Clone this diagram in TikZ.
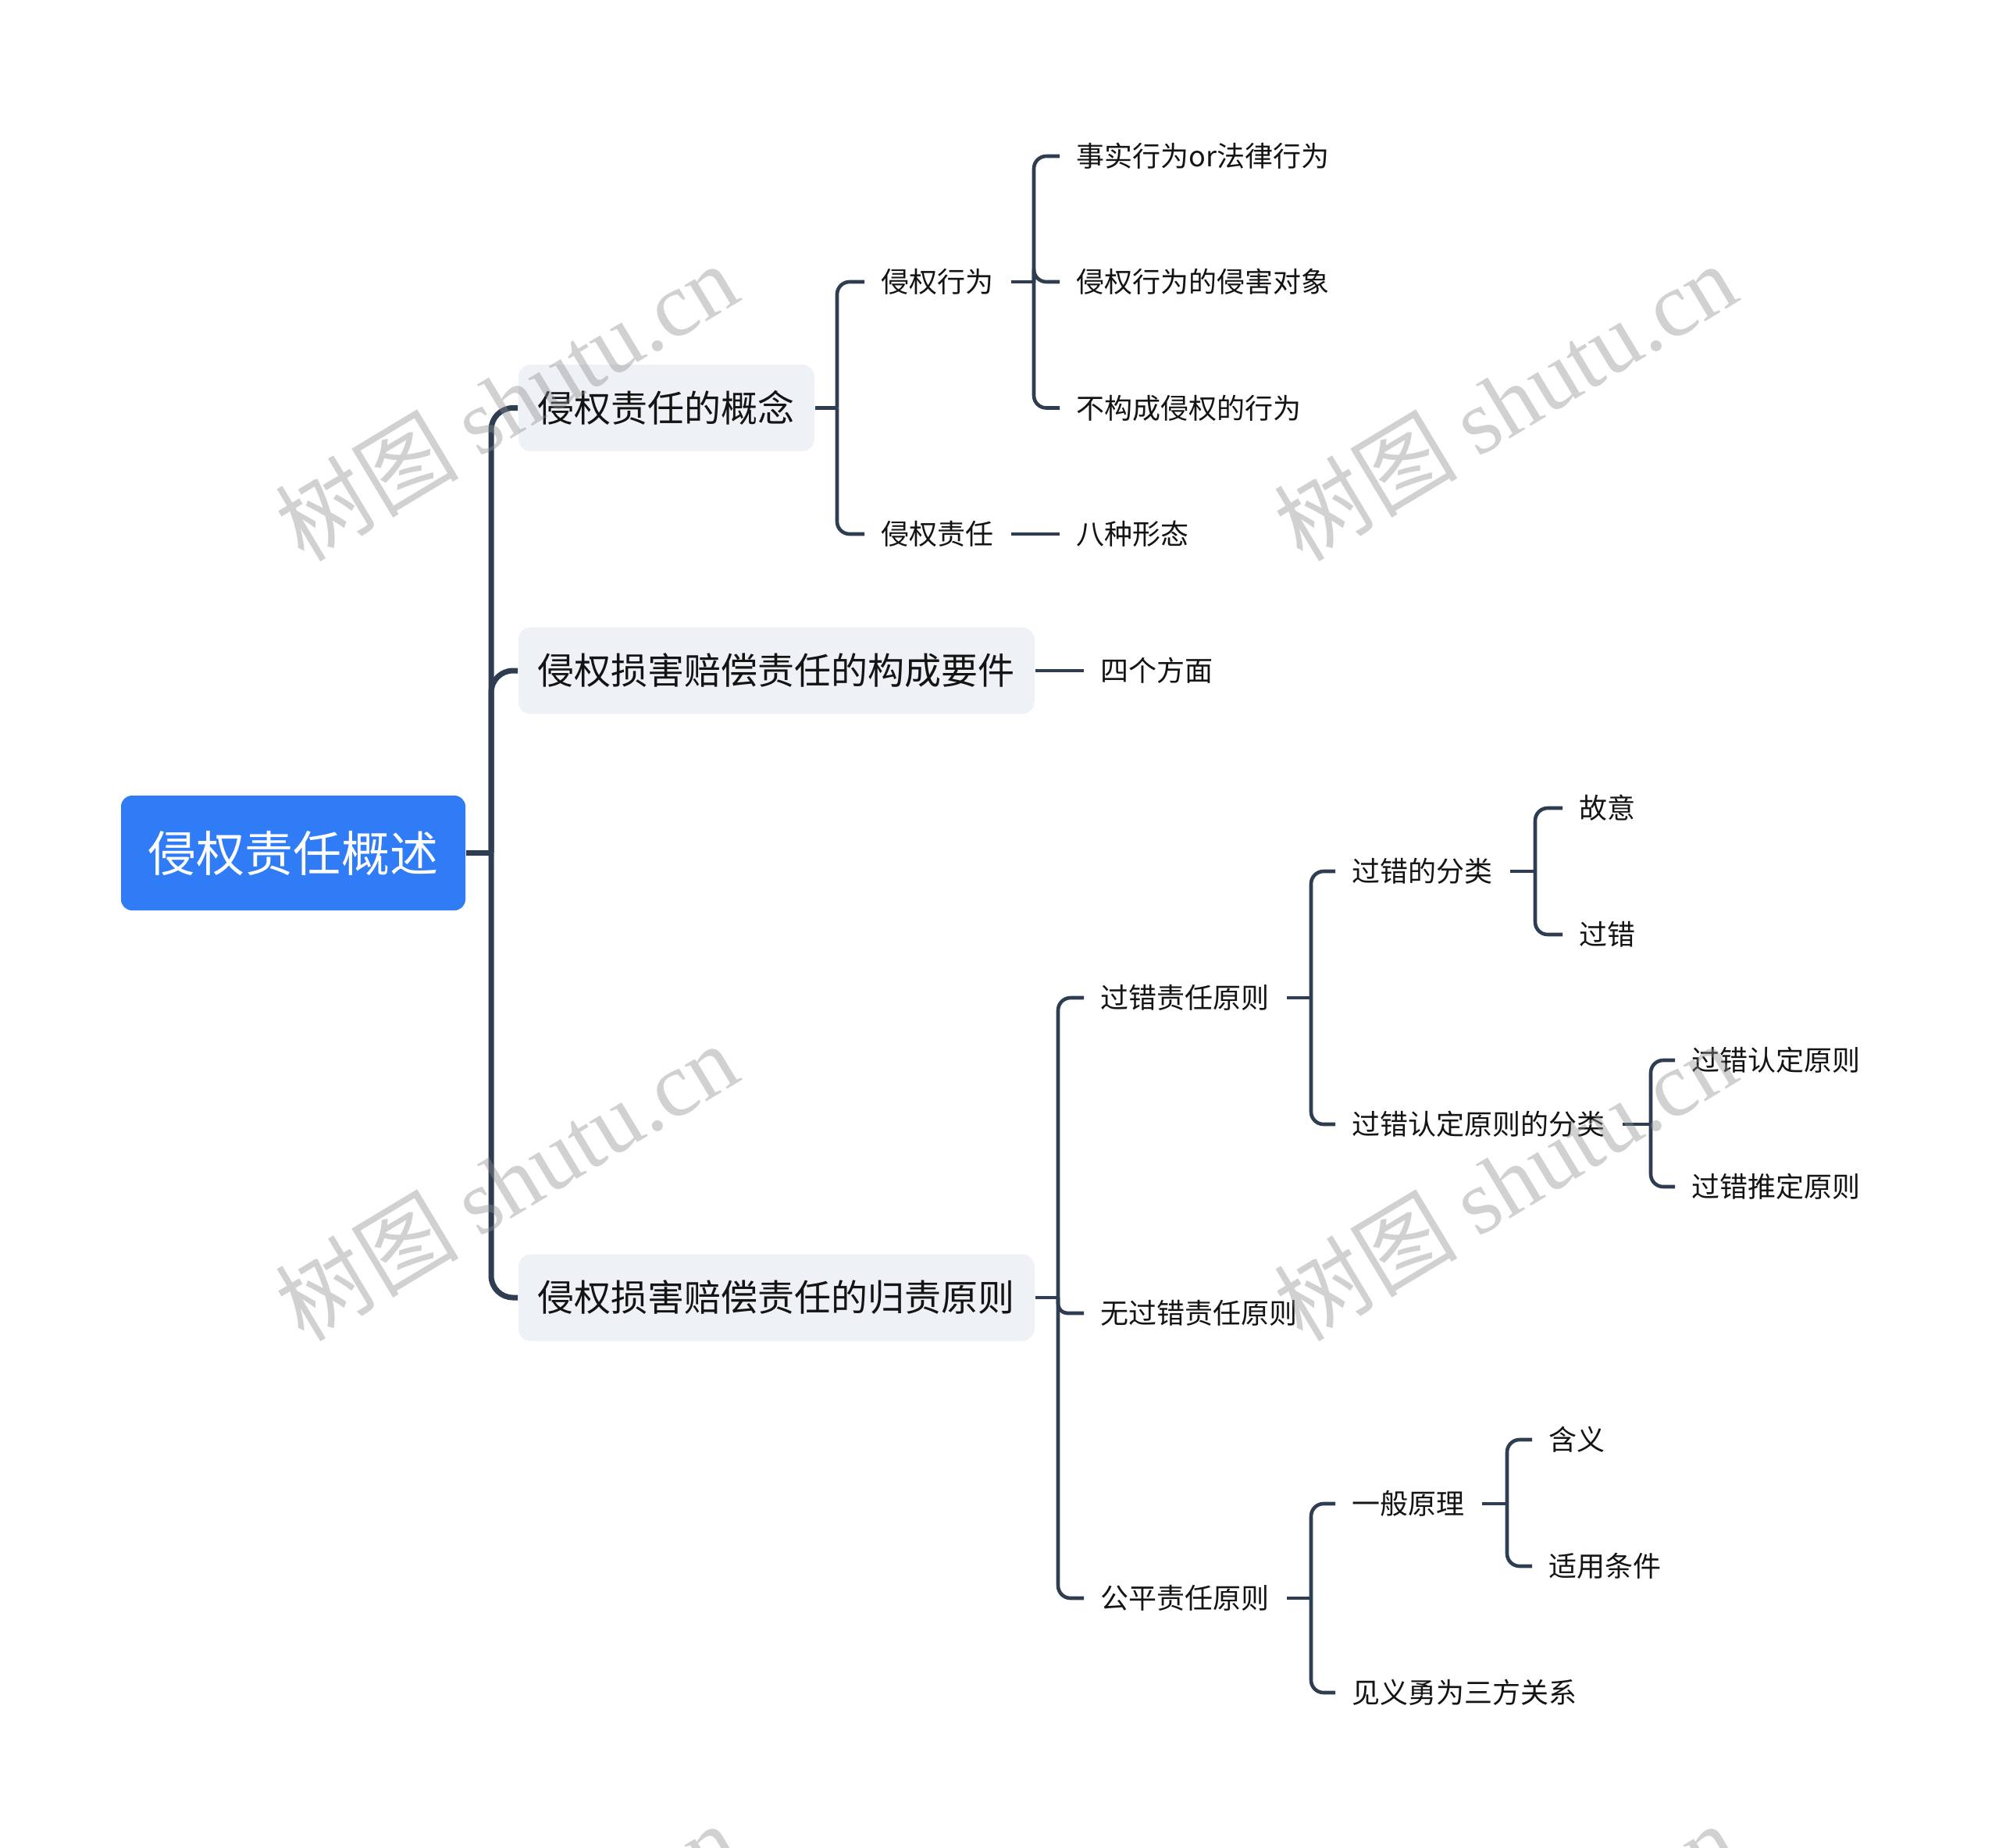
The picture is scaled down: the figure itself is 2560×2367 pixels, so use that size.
\documentclass[tikz,border=0pt]{standalone}
\usepackage{fontspec}
\newfontfamily\cjk{Noto Sans CJK SC}
\newfontfamily\wmlat{Liberation Serif}
\definecolor{lc}{RGB}{46,61,82}
\definecolor{tc}{RGB}{20,20,20}
\definecolor{bxf}{RGB}{238,241,245}
\definecolor{rb}{RGB}{47,124,246}
\tikzset{
 leaf/.style={anchor=west, inner sep=0pt, text=tc, font=\cjk\fontsize{9pt}{10pt}\selectfont, text height=7.92pt, text depth=1.08pt},
 topic/.style={anchor=west, fill=bxf, rounded corners=4pt, inner xsep=6.25pt, inner ysep=0pt, minimum height=27.75pt, text=tc, font=\cjk\fontsize{11.75pt}{13pt}\selectfont, text height=10.34pt, text depth=1.41pt},
 rootbox/.style={fill=rb, rounded corners=3.5pt, minimum width=110.25pt, minimum height=36.75pt, inner sep=0pt, text=white, font=\cjk\fontsize{15.5pt}{17pt}\selectfont, text height=13.64pt, text depth=1.86pt},
 thickconn/.style={draw=lc, line width=1.75pt, rounded corners=7pt, line join=round},
 conn/.style={draw=lc, line width=1.15pt, rounded corners=4pt, line join=round},
 wm/.style={rotate=31, text=black!45, opacity=0.4, font=\fontsize{29.4pt}{30pt}\selectfont, inner sep=0pt}
}
\begin{document}
\begin{tikzpicture}[x=0.25pt,y=-0.25pt]
\fill[white] (0,0) rectangle (2560,2367);
\useasboundingbox (0,0) rectangle (2560,2367);

% junction x positions
\coordinate (jr) at (629,0);
\coordinate (j1) at (1072,0);
\coordinate (j11) at (1324,0);
\coordinate (j3) at (1355,0);
\coordinate (j31) at (1679,0);
\coordinate (j311) at (1966,0);
\coordinate (j312) at (2114,0);
\coordinate (j33) at (1679,0);
\coordinate (j331) at (1930,0);

% nodes
\node[rootbox] (root) at (375.5,1092.5) {侵权责任概述};
\node[topic] (c1) at (663,522.5) {侵权责任的概念};
\node[topic] (c2) at (663,859) {侵权损害赔偿责任的构成要件};
\node[topic] (c3) at (663,1662) {侵权损害赔偿责任的归责原则};

\node[leaf] (a1) at (1128,361) {侵权行为};
\node[leaf] (a2) at (1128,684) {侵权责任};
\node[leaf] (a11) at (1378,200) {事实行为or法律行为};
\node[leaf] (a12) at (1378,361) {侵权行为的侵害对象};
\node[leaf] (a13) at (1378,522.5) {不构成侵权的行为};
\node[leaf] (a21) at (1378,684) {八种形态};
\node[leaf] (b1) at (1409,859) {四个方面};
\node[leaf] (d1) at (1409,1278) {过错责任原则};
\node[leaf] (d2) at (1409,1682) {无过错责任原则};
\node[leaf] (d3) at (1409,2047) {公平责任原则};
\node[leaf] (d11) at (1731,1116) {过错的分类};
\node[leaf] (d12) at (1731,1440) {过错认定原则的分类};
\node[leaf] (d111) at (2022,1035) {故意};
\node[leaf] (d112) at (2022,1197) {过错};
\node[leaf] (d121) at (2166,1358) {过错认定原则};
\node[leaf] (d122) at (2166,1520) {过错推定原则};
\node[leaf] (d31) at (1731,1926) {一般原理};
\node[leaf] (d32) at (1731,2168) {见义勇为三方关系};
\node[leaf] (d311) at (1983,1844) {含义};
\node[leaf] (d312) at (1983,2006) {适用条件};

% root connectors
\draw[thickconn] (root.east) -- (root.east -| jr);
\foreach \c in {c1,c2,c3}
  \draw[thickconn] (root.east -| jr) |- (\c.west);

% c1 branch
\draw[conn] (c1.east) -- (c1.east -| j1);
\foreach \c in {a1,a2}
  \draw[conn] (c1.east -| j1) |- ([xshift=-5.25pt]\c.west);
\draw[conn] ([xshift=5.25pt]a1.east) -- (a1.east -| j11);
\foreach \c in {a11,a12,a13}
  \draw[conn] (a1.east -| j11) |- ([xshift=-5.25pt]\c.west);
\draw[conn] ([xshift=5.25pt]a2.east) -- ([xshift=-5.25pt]a21.west);

% c2 branch
\draw[conn] (c2.east) -- ([xshift=-5.25pt]b1.west);

% c3 branch
\draw[conn] (c3.east) -- (c3.east -| j3);
\foreach \c in {d1,d3}
  \draw[conn] (c3.east -| j3) |- ([xshift=-5.25pt]\c.west);
\draw[conn,rounded corners=3pt] (c3.east -| j3) |- ([xshift=-5.25pt]d2.west);

\draw[conn] ([xshift=5.25pt]d1.east) -- (d1.east -| j31);
\foreach \c in {d11,d12}
  \draw[conn] (d1.east -| j31) |- ([xshift=-5.25pt]\c.west);
\draw[conn] ([xshift=5.25pt]d11.east) -- (d11.east -| j311);
\foreach \c in {d111,d112}
  \draw[conn] (d11.east -| j311) |- ([xshift=-5.25pt]\c.west);
\draw[conn] ([xshift=5.25pt]d12.east) -- (d12.east -| j312);
\foreach \c in {d121,d122}
  \draw[conn] (d12.east -| j312) |- ([xshift=-5.25pt]\c.west);

\draw[conn] ([xshift=5.25pt]d3.east) -- (d3.east -| j33);
\foreach \c in {d31,d32}
  \draw[conn] (d3.east -| j33) |- ([xshift=-5.25pt]\c.west);
\draw[conn] ([xshift=5.25pt]d31.east) -- (d31.east -| j331);
\foreach \c in {d311,d312}
  \draw[conn] (d31.east -| j331) |- ([xshift=-5.25pt]\c.west);

% watermarks
\begin{scope}
\clip (0,0) rectangle (2560,2367);
\foreach \x/\y in {648/514, 1927/514, 648/1513, 1927/1513, 648/2512, 1927/2512}
  \node[wm] (wm-\x-\y) at (\x,\y) {\cjk 树图 \wmlat shutu.cn};
\end{scope}
\end{tikzpicture}
\end{document}
